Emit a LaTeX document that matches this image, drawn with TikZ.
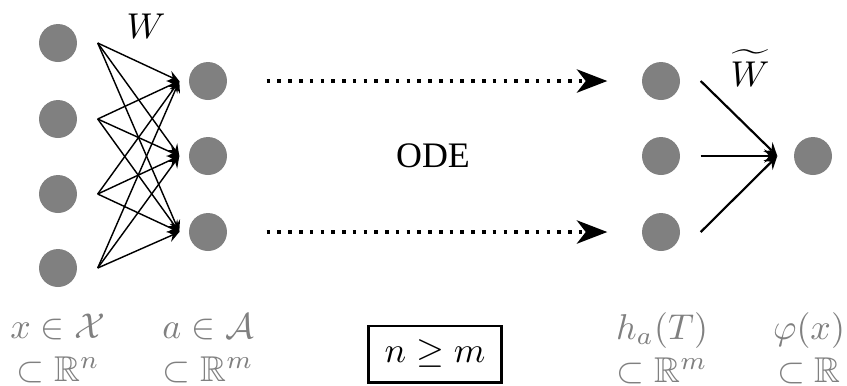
\documentclass[tikz,border=0pt]{standalone}
\usepackage[no-math]{fontspec}
\setmainfont{Liberation Serif}
\usepackage{amssymb}
\usetikzlibrary{arrows.meta, calc}

\begin{document}
\begin{tikzpicture}[x=0.0098cm, y=-0.0098cm,
    neuron/.style={circle, fill=gray, minimum size=0.372cm,
                   inner sep=0pt},
    setlabel/.style={text=gray, align=center},
    wire/.style={->, >=stealth},
    outwire/.style={->, >=stealth, semithick},
    flow/.style={-{Stealth[length=8.5pt, width=6.5pt, inset=2.5pt]},
                 dotted, line width=1pt},
    bound/.style={rectangle, draw, thick, inner sep=0pt,
                  minimum width=1.30cm, minimum height=0.55cm}
]
    \useasboundingbox (0,0) rectangle (847,385);

    % input layer
    \node[neuron] (in1) at (58, 43)  {};
    \node[neuron] (in2) at (58, 119) {};
    \node[neuron] (in3) at (58, 194) {};
    \node[neuron] (in4) at (58, 268) {};

    % hidden layer, start of the ODE
    \node[neuron] (a1) at (208, 81)  {};
    \node[neuron] (a2) at (208, 156) {};
    \node[neuron] (a3) at (208, 232) {};

    % hidden layer, end of the ODE
    \node[neuron] (h1) at (661, 81)  {};
    \node[neuron] (h2) at (661, 156) {};
    \node[neuron] (h3) at (661, 232) {};

    % output
    \node[neuron] (out) at (813, 156) {};

    \node (wlab)  at (146, 26) {$W$};
    \node (wtlab) at (750, 68) {$\widetilde{W}$};
    \node (ode)   at (433, 156) {ODE};

    % labels under the layers
    \node[setlabel] (xlab) at (58, 348)
        {$x \in \mathcal{X}$\\$\subset \mathbb{R}^n$};
    \node[setlabel] (alab) at (208, 348)
        {$a \in \mathcal{A}$\\$\subset \mathbb{R}^m$};
    \node[setlabel] (hlab) at (662, 348)
        {$h_a(T)$\\$\subset \mathbb{R}^m$};
    \node[setlabel] (plab) at (809, 348)
        {$\varphi(x)$\\$\subset \mathbb{R}$};

    \node[bound] (dims) at (435, 354) {$n \geq m$};

    % W: every input to every hidden unit
    \foreach \i in {1,...,4}
        \foreach \j in {1,2,3}
            \draw[wire] ($(in\i.east)+(20,0)$) -- ($(a\j.west)+(-9,0)$);

    % ODE flow
    \draw[flow] ($(a1.east)+(39,0)$) -- ($(h1.west)+(-34,0)$);
    \draw[flow] ($(a3.east)+(39,0)$) -- ($(h3.west)+(-34,0)$);

    % W tilde: readout
    \foreach \j in {1,2,3}
        \draw[outwire] ($(h\j.east)+(20,0)$) -- ($(out.west)+(-16,0)$);

\end{tikzpicture}
\end{document}
